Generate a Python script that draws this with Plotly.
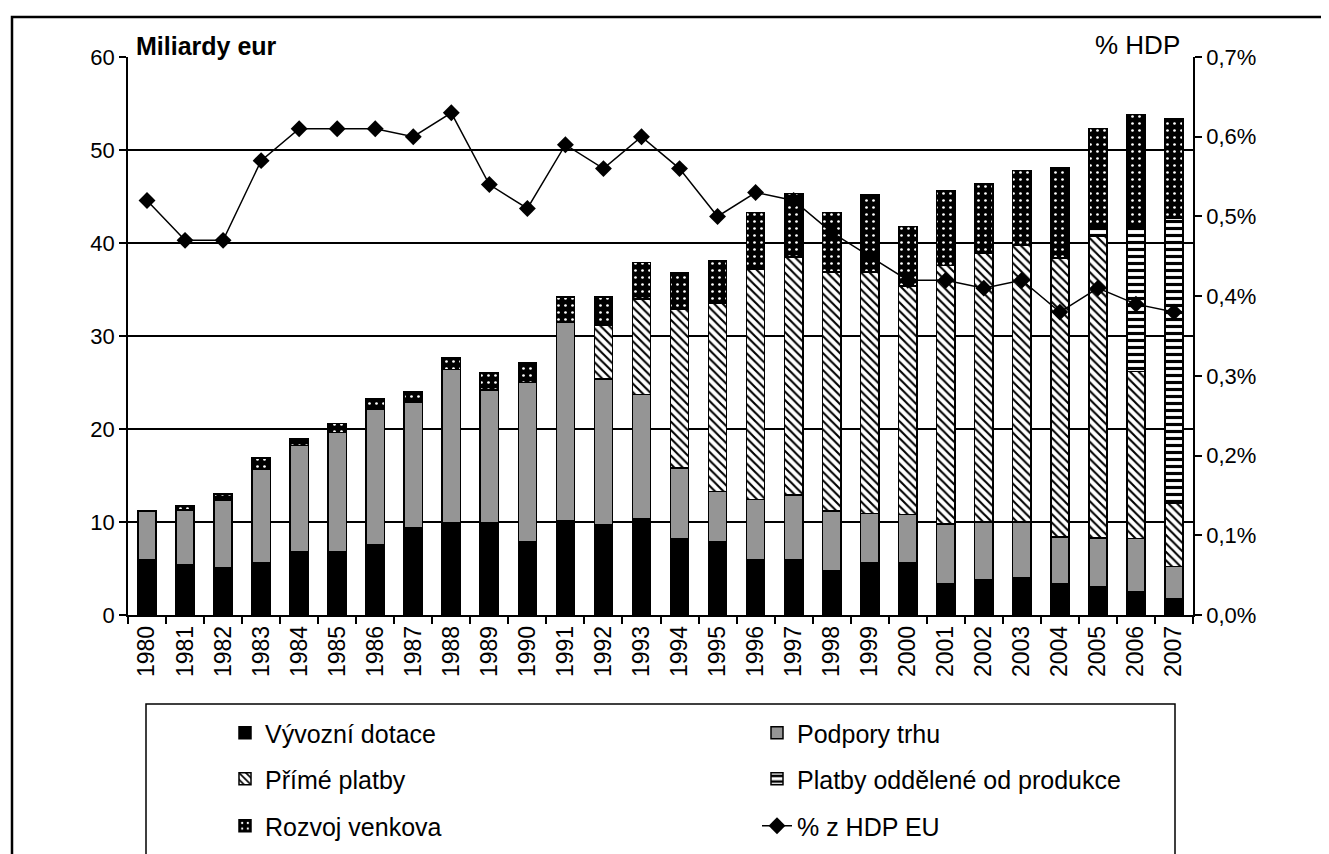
import plotly.graph_objects as go

years = [str(y) for y in range(1980, 2008)]

vyvozni = [5.9, 5.4, 5.1, 5.6, 6.8, 6.8, 7.6, 9.4, 9.9, 9.9, 7.9, 10.1, 9.7, 10.4,
           8.2, 7.9, 5.9, 5.9, 4.8, 5.6, 5.6, 3.4, 3.8, 4.0, 3.4, 3.0, 2.5, 1.8]
podpory = [5.3, 5.9, 7.2, 10.1, 11.4, 12.8, 14.5, 13.5, 16.5, 14.3, 17.1, 21.4, 15.7, 13.3,
           7.6, 5.4, 6.5, 7.0, 6.4, 5.3, 5.2, 6.4, 6.2, 6.0, 5.0, 5.3, 5.7, 3.4]
prime = [0, 0, 0, 0, 0, 0, 0, 0, 0, 0, 0, 0, 5.8, 10.3,
         17.1, 20.2, 24.8, 25.6, 25.7, 26.0, 24.6, 27.8, 28.9, 29.8, 30.0, 32.4, 18.0, 6.8]
oddelene = [0, 0, 0, 0, 0, 0, 0, 0, 0, 0, 0, 0, 0, 0,
            0, 0, 0, 0, 0, 0, 0, 0, 0, 0, 0, 1.1, 15.6, 30.7]
rozvoj = [0, 0.5, 0.7, 1.2, 0.7, 1.0, 1.1, 1.1, 1.3, 1.8, 2.1, 2.7, 3.0, 3.9,
          3.9, 4.6, 6.1, 6.8, 6.4, 8.3, 6.4, 8.0, 7.5, 8.0, 9.7, 10.5, 12.0, 10.7]
hdp = [0.52, 0.47, 0.47, 0.57, 0.61, 0.61, 0.61, 0.60, 0.63, 0.54, 0.51, 0.59, 0.56, 0.60,
       0.56, 0.50, 0.53, 0.52, 0.48, 0.45, 0.42, 0.42, 0.41, 0.42, 0.38, 0.41, 0.39, 0.38]

FONT = "Liberation Sans, Arial, sans-serif"
W, H = 1329, 854
OFF = 8  # page body margin
L, T = 128 - OFF, 57 - OFF
PW, PH = 1065, 558
R, B = W - L - PW, H - T - PH

def px_x(p):
    return (p - OFF - L) / PW

def px_y(p):
    return (H - B - (p - OFF)) / PH

line = dict(color="black", width=1.5)

fig = go.Figure()
fig.add_trace(go.Bar(x=years, y=vyvozni, name="Vývozní dotace",
                     marker=dict(color="black", line=line), legend="legend"))
fig.add_trace(go.Bar(x=years, y=podpory, name="Podpory trhu",
                     marker=dict(color="#959595", line=line), legend="legend2"))
fig.add_trace(go.Bar(x=years, y=prime, name="Přímé platby",
                     marker=dict(color="white", line=line,
                                 pattern=dict(shape="\\", fgcolor="black", bgcolor="white",
                                              fillmode="replace", size=6, solidity=0.35)),
                     legend="legend3"))
fig.add_trace(go.Bar(x=years, y=oddelene, name="Platby oddělené od produkce",
                     marker=dict(color="white", line=line,
                                 pattern=dict(shape="-", fgcolor="black", bgcolor="white",
                                              fillmode="replace", size=7, solidity=0.45)),
                     legend="legend4"))
fig.add_trace(go.Bar(x=years, y=rozvoj, name="Rozvoj venkova",
                     marker=dict(color="black", line=line,
                                 pattern=dict(shape=".", fgcolor="white", bgcolor="black",
                                              fillmode="replace", size=7, solidity=0.12)),
                     legend="legend5"))
fig.add_trace(go.Scatter(x=years, y=hdp, name="% z HDP EU", yaxis="y2",
                         mode="lines+markers",
                         line=dict(color="black", width=1.5),
                         marker=dict(symbol="diamond", size=13, color="black"),
                         legend="legend6"))

def leg(xtext, ycenter):
    return dict(orientation="v", xanchor="left", yanchor="middle",
                x=px_x(xtext - 40), y=px_y(ycenter),
                bgcolor="rgba(0,0,0,0)", borderwidth=0,
                font=dict(family=FONT, size=25, color="black"))

col1, col2 = 265, 797
rows = [733, 779, 826]

fig.update_layout(
    width=W, height=H,
    margin=dict(l=L, r=R, t=T, b=B, autoexpand=False),
    paper_bgcolor="white", plot_bgcolor="white",
    barmode="stack", bargap=0.52,
    separators=", ",
    font=dict(family=FONT, size=22, color="black"),
    xaxis=dict(type="category", range=[-0.5, len(years) - 0.5],
               showline=True, linecolor="black", linewidth=1.5,
               ticks="outside", tickson="boundaries", ticklen=7, tickwidth=1.5,
               tickcolor="black", tickangle=-90, tickfont=dict(size=23),
               showgrid=False),
    yaxis=dict(range=[0, 60], dtick=10, showline=True, linecolor="black", linewidth=1.5,
               ticks="outside", ticklen=7, tickwidth=1.5, tickcolor="black",
               showgrid=True, gridcolor="black", gridwidth=1.8, zeroline=False,
               tickfont=dict(size=22)),
    yaxis2=dict(range=[0, 0.7], dtick=0.1, overlaying="y", side="right",
                tickformat=".1f", ticksuffix="%", showline=True, linecolor="black",
                linewidth=1.5, ticks="outside", ticklen=7, tickwidth=1.5,
                tickcolor="black", showgrid=False, zeroline=False,
                tickfont=dict(size=22)),
    legend=leg(col1, rows[0]),
    legend2=leg(col2, rows[0]),
    legend3=leg(col1, rows[1]),
    legend4=leg(col2, rows[1]),
    legend5=leg(col1, rows[2]),
    legend6=leg(col2, rows[2]),
    showlegend=True,
    annotations=[
        dict(text="<b>Miliardy eur</b>", xref="paper", yref="paper", x=px_x(134), y=1,
             xanchor="left", yanchor="bottom", showarrow=False, yshift=-5,
             font=dict(family=FONT, size=25, color="black")),
        dict(text="% HDP", xref="paper", yref="paper", x=px_x(1182), y=1,
             xanchor="right", yanchor="bottom", showarrow=False, yshift=-5,
             font=dict(family=FONT, size=26, color="black")),
    ],
    shapes=[
        dict(type="rect", xref="paper", yref="paper", x0=px_x(12), x1=px_x(1360),
             y0=px_y(880), y1=px_y(17), line=dict(color="black", width=2.5)),
        dict(type="rect", xref="paper", yref="paper", x0=px_x(146), x1=px_x(1175),
             y0=px_y(880), y1=px_y(704), line=dict(color="black", width=1.5)),
    ],
)

fig.write_html("out.html")
